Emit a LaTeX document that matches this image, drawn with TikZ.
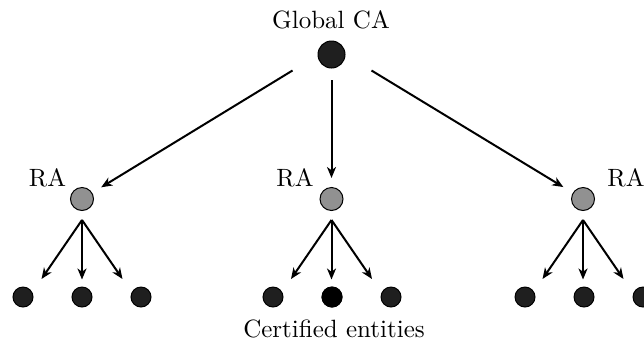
\documentclass[tikz,border=0pt]{standalone}
\usetikzlibrary{arrows.meta,calc}
\begin{document}
\begin{tikzpicture}[x=0.4pt,y=-0.4pt,
  ca/.style={circle,draw=black,line width=0.4pt,fill=black!88,minimum size=10.8pt,inner sep=0pt},
  ra/.style={circle,draw=black,line width=0.4pt,fill=black!43,minimum size=9.2pt,inner sep=0pt},
  entity/.style={circle,draw=black,line width=0.4pt,fill=black!88,minimum size=8pt,inner sep=0pt},
  lbl/.style={anchor=base,inner sep=0pt},
  arr/.style={line width=0.8pt,-{Stealth[length=4.4pt,width=3.6pt,inset=1.3pt]}}]
\useasboundingbox (0,0) rectangle (644,347);

% root authority
\node[ca] (ca) at (331.5,54.5) {};
\node[lbl] (catext) at (331,28) {Global CA};

% registration authorities
\node[ra] (r1) at (82,199) {};
\node[ra] (r2) at (331.5,199) {};
\node[ra] (r3) at (583,199) {};
\node[lbl] (r1t) at (47.5,186.5) {RA};
\node[lbl] (r2t) at (295,186.5) {RA};
\node[lbl] (r3t) at (626,186.5) {RA};

% certified entities
\foreach \g/\x in {1/82,2/332,3/584}{
  \node[entity] (e\g1) at (\x-59,297) {};
  \node[entity] (e\g2) at (\x,297) {};
  \node[entity] (e\g3) at (\x+59,297) {};
}
\node[entity,fill=black] at (e22) {};
\node[lbl] (cert) at (334,337.5) {Certified entities};

% arrows from the root to each RA
\coordinate (s1) at ($(ca)+(-39,16)$);
\coordinate (s2) at ($(ca)+(0,25.5)$);
\coordinate (s3) at ($(ca)+(40,16)$);
\draw[arr,shorten >=10.5pt*0.4] (s1) -- (r1);
\draw[arr,shorten >=9pt*0.4] (s2) -- (r2);
\draw[arr,shorten >=11pt*0.4] (s3) -- (r3);

% arrows from each RA fanning out to its entities
\foreach \r in {r1,r2,r3}{
  \coordinate (\r o) at ($(\r)+(0,21)$);
  \coordinate (\r a) at ($(\r)+(-40.5,80)$);
  \coordinate (\r b) at ($(\r)+(0,80.5)$);
  \coordinate (\r c) at ($(\r)+(40.5,80)$);
  \draw[arr] (\r o) -- (\r a);
  \draw[arr] (\r o) -- (\r b);
  \draw[arr] (\r o) -- (\r c);
}
\end{tikzpicture}
\end{document}
